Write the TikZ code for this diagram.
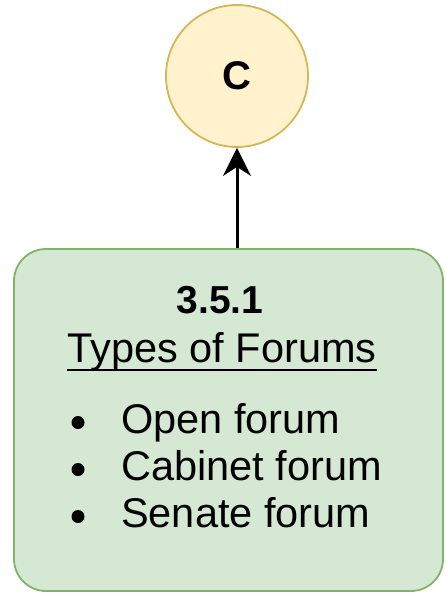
\documentclass[tikz,border=0pt]{standalone}
\usepackage{fontspec}
\setmainfont{Liberation Sans}
\usetikzlibrary{arrows.meta,positioning}
\definecolor{fyellow}{HTML}{FFF2CC}
\definecolor{fyellowline}{HTML}{D6B656}
\definecolor{fgreen}{HTML}{D5E8D4}
\definecolor{fgreenline}{HTML}{82B366}

\begin{document}
\begin{tikzpicture}[
    x=1pt, y=-1pt,
    topic/.style={circle, draw=fyellowline, fill=fyellow, line width=1.8pt,
                  minimum size=142pt, inner sep=0pt},
    forumbox/.style={draw=fgreenline, fill=fgreen, line width=1.8pt,
                     rounded corners=32pt, minimum width=429pt,
                     minimum height=342pt, inner sep=0pt},
    txt/.style={inner sep=0pt, font=\fontsize{41.5}{47}\selectfont},
    dot/.style={circle, fill=black, minimum size=13pt, inner sep=0pt},
    arr/.style={-{Stealth[length=28pt, width=28pt, inset=9pt]}, line width=3pt}
]
\useasboundingbox (0,0) rectangle (445,594);

% Topic circle and the forum box
\node[topic] (topic) at (237, 76) {};
\node[txt, font=\fontsize{40}{47}\selectfont\bfseries, anchor=base] (topiclbl)
    at (236.5, 89) {C};
\node[forumbox] (forums) at (228.5, 420) {};

% Heading
\node[txt, font=\fontsize{39}{47}\selectfont\bfseries, anchor=base] (num)
    at (220, 313) {3.5.1};
\node[txt, anchor=base] (heading) at (222, 362) {Types of Forums};
\draw[line width=2pt] ([yshift=-8pt]heading.base west)
    -- ([yshift=-8pt]heading.base east);

% List of forum types
\node[dot] (b1) at (78, 422.5) {};
\node[txt, anchor=base west] (open) at (121, 433) {Open forum};
\node[dot] (b2) at (78, 469.5) {};
\node[txt, anchor=base west] (cabinet) at (121, 480) {Cabinet forum};
\node[dot] (b3) at (78, 516.5) {};
\node[txt, anchor=base west] (senate) at (121, 527) {Senate forum};

\draw[arr] (forums.north -| topic.south) -- (topic.south);

\end{tikzpicture}
\end{document}
